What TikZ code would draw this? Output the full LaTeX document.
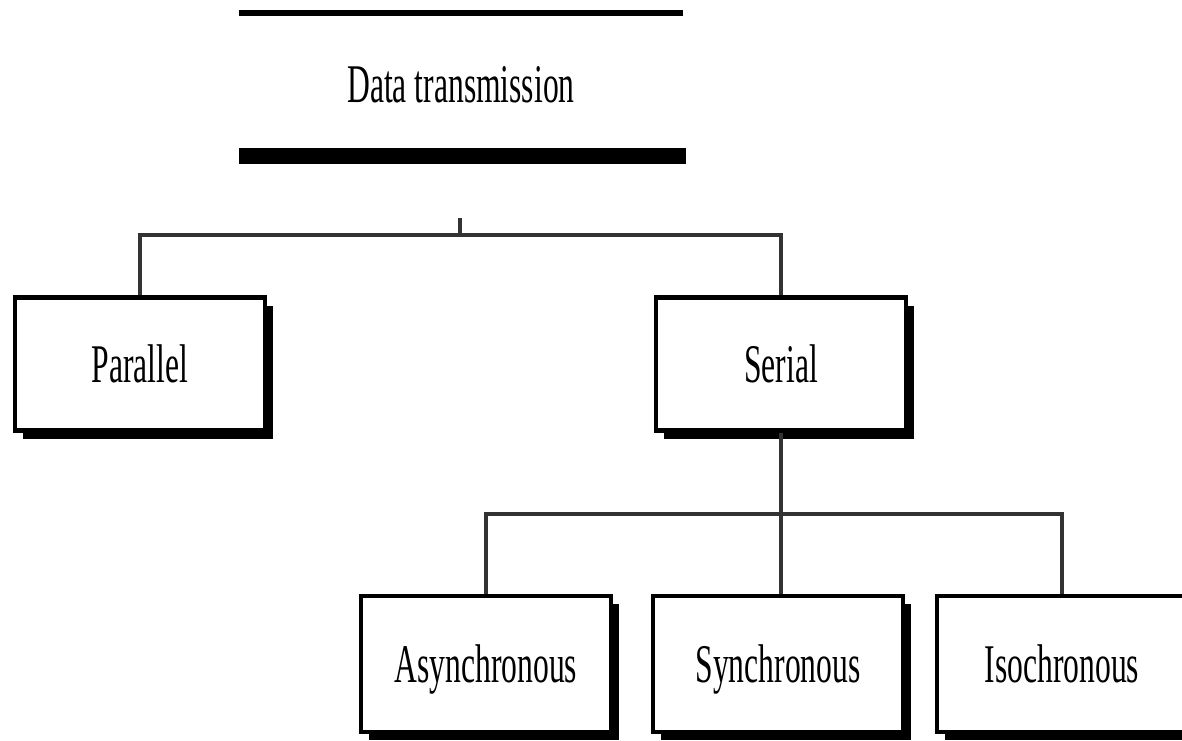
\documentclass[tikz,border=0pt]{standalone}
\usepackage{fontspec}
\newfontfamily\boxfont[FakeStretch=0.58]{Liberation Serif}
\usetikzlibrary{shadows}

\begin{document}
\begin{tikzpicture}[
    box/.style={draw, line width=1.2pt, fill=white, minimum width=2.5cm, minimum height=1.33cm,
      text height=0.36cm, text depth=0cm, font=\boxfont\fontsize{15.5}{18}\selectfont,
      drop shadow={shadow xshift=0.08cm, shadow yshift=-0.08cm, fill=black, opacity=1}},
    lowbox/.style={box, minimum height=1.36cm},
    link/.style={line width=1.1pt, draw=black!80}
  ]
  \useasboundingbox (0,0) rectangle (11.82,-7.41);
  % Title between the two rules
  \fill (2.39,-0.10) rectangle (6.83,-0.16);
  \node (title) at (4.61,-0.84) [text height=0.36cm, text depth=0cm, font=\boxfont\fontsize{15.5}{18}\selectfont] {Data transmission};
  \fill (2.39,-1.48) rectangle (6.86,-1.64);
  % Nodes
  \node (par) at (1.40,-3.64) [box] {Parallel};
  \node (ser) at (7.81,-3.64) [box] {Serial};
  \node (asy) at (4.86,-6.64) [lowbox] {Asynchronous};
  \node (syn) at (7.78,-6.64) [lowbox] {Synchronous};
  \node (iso) at (10.62,-6.64) [lowbox] {Isochronous};
  % Edges
  \coordinate (tick) at (4.60,-2.18);
  \coordinate (j1) at (4.60,-2.35);
  \coordinate (j2) at (7.81,-5.14);
  \draw[link] (tick) -- (j1);
  \draw[link] (par.north) |- (j1) -| (ser.north);
  \draw[link] (ser.south) -- (j2);
  \draw[link] (asy.north) |- (j2) -| (iso.north);
  \draw[link] (j2) -- (syn.north -| j2);
\end{tikzpicture}
\end{document}
